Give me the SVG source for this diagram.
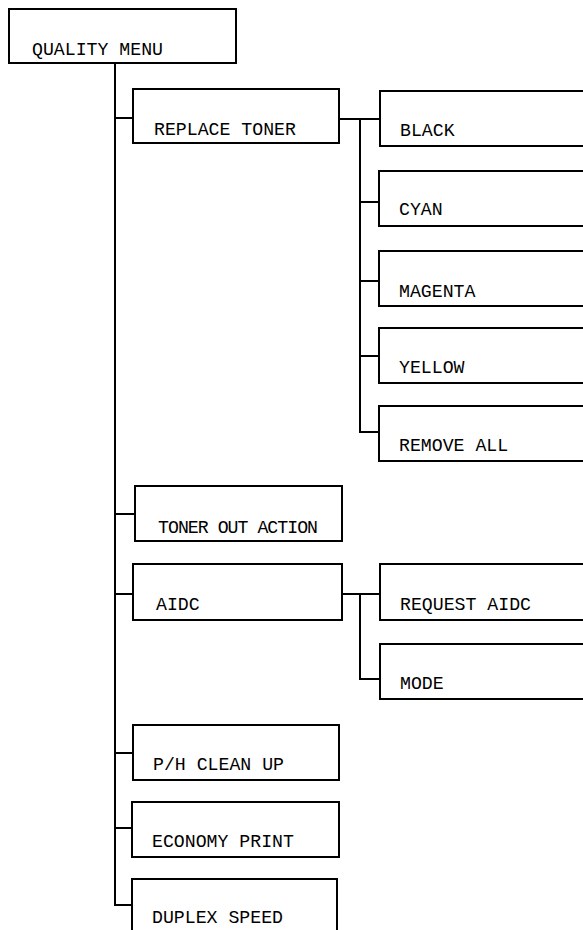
<svg xmlns="http://www.w3.org/2000/svg" width="583" height="930" viewBox="0 0 583 930">
<style>
.box{fill:#fff;stroke:#000;stroke-width:2}
.lbl{font-family:"Liberation Mono","DejaVu Sans Mono",monospace;font-size:18.2px;fill:#000}
.con{fill:none;stroke:#000;stroke-width:2}
</style>
<rect width="583" height="930" fill="#fff"/>
<g id="connectors" class="con">
<path d="M115 63 V905 H132"/>
<path d="M115 118 H133"/>
<path d="M115 514 H135"/>
<path d="M115 594 H133"/>
<path d="M115 753 H133"/>
<path d="M115 828 H132"/>
<path d="M339 119 H380"/>
<path d="M360 119 V432 H379"/>
<path d="M360 202 H379"/>
<path d="M360 281 H379"/>
<path d="M360 356 H379"/>
<path d="M342 594 H380"/>
<path d="M360 594 V679 H380"/>
</g>
<g id="quality-menu"><rect class="box" x="9" y="9" width="227" height="54"/><text class="lbl" x="32" y="55">QUALITY MENU</text></g>
<g id="replace-toner"><rect class="box" x="133" y="89" width="206" height="54"/><text class="lbl" x="154" y="135">REPLACE TONER</text></g>
<g id="black"><rect class="box" x="380" y="91" width="215" height="55"/><text class="lbl" x="400" y="136">BLACK</text></g>
<g id="cyan"><rect class="box" x="379" y="171" width="215" height="55"/><text class="lbl" x="399" y="215">CYAN</text></g>
<g id="magenta"><rect class="box" x="379" y="251" width="215" height="55"/><text class="lbl" x="399" y="297">MAGENTA</text></g>
<g id="yellow"><rect class="box" x="379" y="328" width="215" height="55"/><text class="lbl" x="399" y="373">YELLOW</text></g>
<g id="remove-all"><rect class="box" x="379" y="406" width="215" height="55"/><text class="lbl" x="399" y="451">REMOVE ALL</text></g>
<g id="toner-out-action"><rect class="box" x="135" y="486" width="207" height="55"/><text class="lbl" x="158" y="533" textLength="160" lengthAdjust="spacing">TONER OUT ACTION</text></g>
<g id="aidc"><rect class="box" x="133" y="564" width="209" height="56"/><text class="lbl" x="156" y="610">AIDC</text></g>
<g id="request-aidc"><rect class="box" x="380" y="564" width="215" height="56"/><text class="lbl" x="400" y="610">REQUEST AIDC</text></g>
<g id="mode"><rect class="box" x="380" y="644" width="215" height="55"/><text class="lbl" x="400" y="689">MODE</text></g>
<g id="ph-clean-up"><rect class="box" x="133" y="725" width="206" height="55"/><text class="lbl" x="153" y="770">P/H CLEAN UP</text></g>
<g id="economy-print"><rect class="box" x="132" y="802" width="207" height="55"/><text class="lbl" x="152" y="847">ECONOMY PRINT</text></g>
<g id="duplex-speed"><rect class="box" x="132" y="879" width="205" height="60"/><text class="lbl" x="152" y="923">DUPLEX SPEED</text></g>
</svg>
